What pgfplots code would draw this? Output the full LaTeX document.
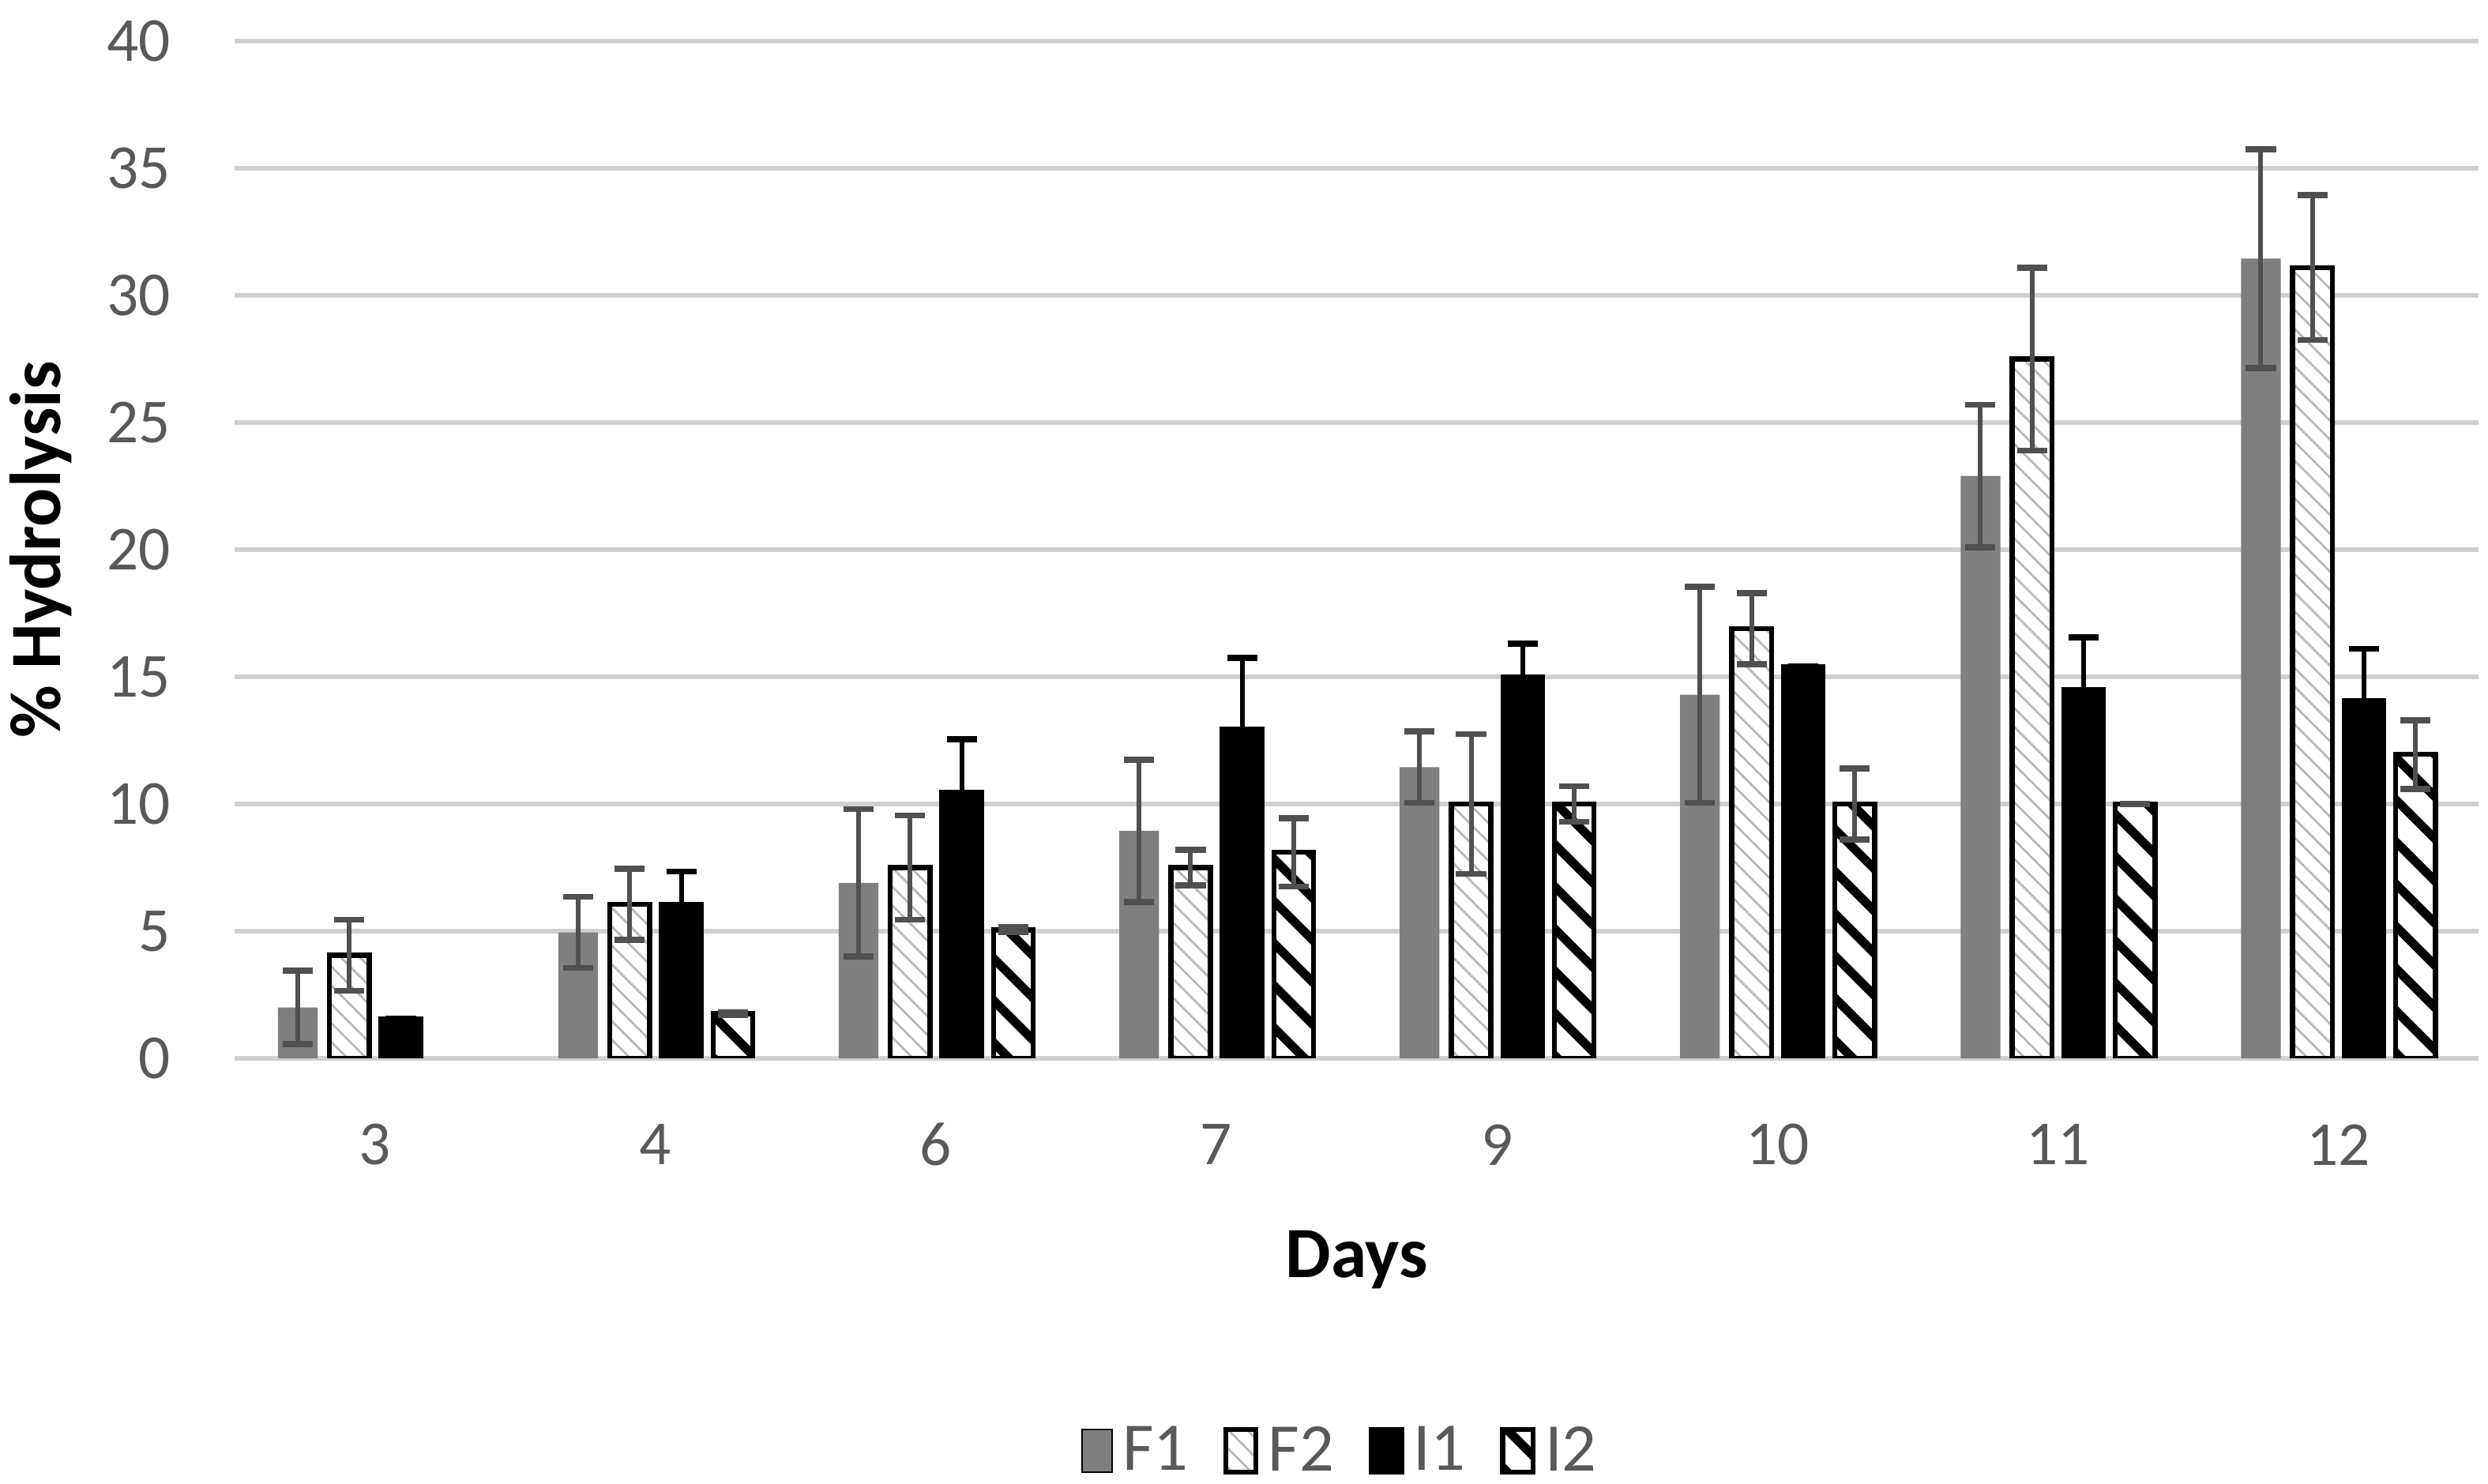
\documentclass[border=0pt]{standalone}
\usepackage{fontspec}
\setmainfont{Carlito}
\usepackage{pgfplots}
\pgfplotsset{compat=1.18}
\usetikzlibrary{patterns.meta}
\definecolor{tickc}{HTML}{595959}
\definecolor{gridc}{HTML}{D0D0D0}
\definecolor{fone}{HTML}{7F7F7F}
\definecolor{errc}{HTML}{505050}
\begin{document}
\begin{tikzpicture}
\begin{axis}[
  at={(0,0)}, anchor=south west,
  scale only axis, width=707pt, height=320.5pt,
  xmin=-0.5, xmax=7.5, ymin=0, ymax=40,
  ybar=3.75pt, bar width=12.5pt,
  xtick={0,...,7}, xticklabels={3,4,6,7,9,10,11,12},
  ytick={0,5,...,40},
  major tick length=0pt,
  axis line style={draw=none},
  ymajorgrids, grid style={gridc, line width=1.5pt},
  /pgf/number format/assume math mode=true,
  ticklabel style={font=\fontsize{19.75}{24}\selectfont, text=tickc},
  xticklabel style={anchor=center, yshift=-27.25pt},
  yticklabel style={anchor=east, xshift=-20pt, inner sep=0pt},
  xlabel={Days}, ylabel={\% Hydrolysis},
  label style={font=\bfseries\fontsize{22.75}{27}\selectfont},
  xlabel style={at={(axis description cs:0.5,-0.2153)}, anchor=base},
  ylabel style={at={(axis description cs:-0.0778,0.5)}, anchor=base},
  legend style={at={(axis description cs:0.4936,-0.3860)}, anchor=center, draw=none, fill=none,
    legend columns=-1, font=\fontsize{21.5}{25}\selectfont, text=tickc, inner sep=0pt,
    /tikz/every even column/.append style={column sep=9pt}},
  legend image code/.code={\draw[#1] (0pt,-6.75pt) rectangle (9.5pt,6.75pt);},
  error bars/y dir=both, error bars/y explicit,
]
\addplot[fill=fone, draw=none,
  error bars/.cd, error bar style={draw=errc, line width=1.5pt},
  error mark options={rotate=90, draw=errc, line width=1.9pt, mark size=4.75pt}]
  coordinates {(0,2)+-(0,1.45) (1,4.95)+-(0,1.4) (2,6.9)+-(0,2.9) (3,8.95)+-(0,2.8)
   (4,11.45)+-(0,1.4) (5,14.3)+-(0,4.25) (6,22.9)+-(0,2.8) (7,31.45)+-(0,4.3)};
\addlegendentry{\hspace{1pt}F1}
\addplot[preaction={fill=white}, pattern={Lines[angle=-45, distance=4.2pt, line width=0.7pt]}, pattern color=gray!55, draw=black, line width=1.6pt,
  error bars/.cd, error bar style={draw=errc, line width=1.5pt},
  error mark options={rotate=90, draw=errc, line width=1.9pt, mark size=4.75pt}]
  coordinates {(0,4.05)+-(0,1.4) (1,6.05)+-(0,1.4) (2,7.5)+-(0,2.05) (3,7.5)+-(0,0.7)
   (4,10)+-(0,2.75) (5,16.9)+-(0,1.4) (6,27.5)+-(0,3.6) (7,31.1)+-(0,2.85)};
\addlegendentry{\hspace{1pt}F2}
\addplot[fill=black, draw=black, line width=1.6pt,
  error bars/.cd, error bar style={draw=black, line width=1.5pt},
  error mark options={rotate=90, draw=black, line width=1.9pt, mark size=4.75pt}]
  coordinates {(0,1.55)+-(0,0) (1,6.05)+-(0,1.3) (2,10.45)+-(0,2.1) (3,12.95)+-(0,2.8)
   (4,15)+-(0,1.3) (5,15.4)+-(0,0) (6,14.5)+-(0,2.05) (7,14.05)+-(0,2.05)};
\addlegendentry{\hspace{1pt}I1}
\addplot[preaction={fill=white}, pattern={Lines[angle=-45, distance=9.4pt, line width=2.8pt]}, pattern color=black, draw=black, line width=1.6pt,
  error bars/.cd, error bar style={draw=errc, line width=1.5pt},
  error mark options={rotate=90, draw=errc, line width=1.9pt, mark size=4.75pt}]
  coordinates {(1,1.75)+-(0,0.05) (2,5.05)+-(0,0.1) (3,8.1)+-(0,1.35) (4,10)+-(0,0.7)
   (5,10)+-(0,1.4) (6,10)+-(0,0) (7,11.95)+-(0,1.35)};
\addlegendentry{\hspace{1pt}I2}
\end{axis}
\pgfresetboundingbox
\path[use as bounding box] (-74pt,-134pt) rectangle (710pt,333.5pt);
\end{tikzpicture}
\end{document}
